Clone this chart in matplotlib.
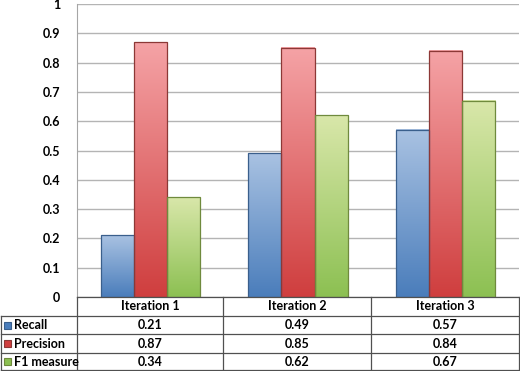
import numpy as np
import matplotlib.pyplot as plt
from matplotlib.colors import LinearSegmentedColormap
from matplotlib.patches import Rectangle
from matplotlib.lines import Line2D

# data
categories = ['Iteration 1', 'Iteration 2', 'Iteration 3']
series_names = ['Recall', 'Precision', 'F1 measure']
recall = [0.21, 0.49, 0.57]
precision = [0.87, 0.85, 0.84]
f1 = [0.34, 0.62, 0.67]
y_ticks = [0, 0.1, 0.2, 0.3, 0.4, 0.5, 0.6, 0.7, 0.8, 0.9, 1]
y_tick_labels = ['0', '0.1', '0.2', '0.3', '0.4', '0.5', '0.6', '0.7', '0.8', '0.9', '1']

# (top colour, bottom colour, edge colour)
styles = [
    ('#a9c2e2', '#4a7dbb', '#3a5f8c'),
    ('#f5a3a6', '#cf3e3e', '#8c3836'),
    ('#d9e7aa', '#8cc052', '#6f8a3d'),
]

plt.rcParams['font.family'] = ['Lato', 'DejaVu Sans']
plt.rcParams['font.weight'] = 'bold'
fs = 9

W, H = 520, 371
fig = plt.figure(figsize=(W / 100, H / 100), dpi=100)
ax_l, ax_r, ax_t, ax_b = 77, 519, 4, 297
ax = fig.add_axes([ax_l / W, 1 - ax_b / H, (ax_r - ax_l) / W, (ax_b - ax_t) / H])

x = np.arange(len(categories))
width = 0.224
grad = np.linspace(1, 0, 256).reshape(-1, 1)
for i, vals in enumerate([recall, precision, f1]):
    top, bottom, edge = styles[i]
    cmap = LinearSegmentedColormap.from_list('g%d' % i, [bottom, top])
    for xi, v in zip(x, vals):
        x0 = xi + (i - 1) * width - width / 2
        ax.imshow(grad, cmap=cmap, extent=[x0, x0 + width, 0, v], aspect='auto',
                  zorder=3, interpolation='bilinear')
        ax.add_patch(Rectangle((x0, 0), width, v, facecolor='none',
                               edgecolor=edge, linewidth=0.9, zorder=4))

ax.set_xlim(-0.5, len(categories) - 0.5)
ax.set_ylim(0, 1)
ax.set_yticks(y_ticks)
ax.set_yticklabels(y_tick_labels, fontsize=fs, fontweight='bold')
ax.set_xticks([])
ax.tick_params(axis='y', length=0, pad=12)
ax.grid(axis='y', color='#b4b4b4', linewidth=1, zorder=0)
for s in ['top', 'right', 'bottom']:
    ax.spines[s].set_visible(False)
ax.spines['left'].set_color('#a6a6a6')

# data table below the plot
def px(xp, yp):
    return xp / W, 1 - yp / H

line_kw = dict(color='#505050', linewidth=0.9)
rows_y = [297, 316, 334, 353, 370]
cols_x = [ax_l, 223, 371, ax_r]

def hline(x0, x1, y):
    a, b = px(x0, y), px(x1, y)
    fig.add_artist(Line2D([a[0], b[0]], [a[1], b[1]], **line_kw))

def vline(xp, y0, y1):
    a, b = px(xp, y0), px(xp, y1)
    fig.add_artist(Line2D([a[0], b[0]], [a[1], b[1]], **line_kw))

hline(ax_l, ax_r, rows_y[0])
for yy in rows_y[1:]:
    hline(0.5, ax_r, yy)
for xx in cols_x:
    vline(xx, rows_y[0], rows_y[-1])
vline(0.5, rows_y[1], rows_y[-1])

for j, cat in enumerate(categories):
    cx = (cols_x[j] + cols_x[j + 1]) / 2
    cy = (rows_y[0] + rows_y[1]) / 2
    fig.text(*px(cx, cy), cat, ha='center', va='center', fontsize=fs, fontweight='bold')

for i, (name, vals) in enumerate(zip(series_names, [recall, precision, f1])):
    cy = (rows_y[i + 1] + rows_y[i + 2]) / 2
    top, bottom, edge = styles[i]
    sx, sy = px(4, cy + 3.5)
    fig.add_artist(Rectangle((sx, sy), 7 / W, 7 / H, transform=fig.transFigure,
                             facecolor=bottom, edgecolor=edge, linewidth=0.8))
    fig.text(*px(14, cy), name, ha='left', va='center', fontsize=fs, fontweight='bold')
    for j, v in enumerate(vals):
        cx = (cols_x[j] + cols_x[j + 1]) / 2
        fig.text(*px(cx, cy), '%.2f' % v, ha='center', va='center', fontsize=fs,
                 fontweight='bold')

fig.savefig('out.png', dpi=100)
